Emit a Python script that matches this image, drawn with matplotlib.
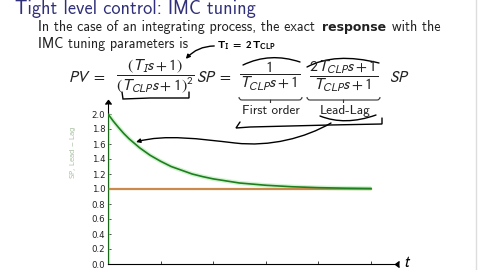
#
# Slide snapshot: IMC tuning of an integrating process, step response of SP and lead-lag
#

import matplotlib
matplotlib.use("Agg")
import matplotlib.pyplot as plt
from matplotlib.path import Path
from matplotlib.patches import FancyArrowPatch, PathPatch

# Data
t_sp = [0.0, 5.0]
sp = [1.0, 1.0]
t_leadlag = [0.0, 0.0, 0.1, 0.2, 0.3, 0.4, 0.5, 0.6, 0.8, 1.0, 1.2, 1.4, 1.6, 1.8, 2.0,
             2.5, 3.0, 3.5, 4.0, 4.5, 5.0]
leadlag = [0.0, 2.0, 1.905, 1.82, 1.74, 1.67, 1.61, 1.55, 1.45, 1.37, 1.30, 1.25, 1.20,
           1.165, 1.135, 1.08, 1.05, 1.03, 1.018, 1.011, 1.007]
y_ticks = [0.0, 0.2, 0.4, 0.6, 0.8, 1.0, 1.2, 1.4, 1.6, 1.8, 2.0]
x_ticks = [0, 1, 2, 3, 4, 5]

plt.rcParams['mathtext.fontset'] = 'stixsans'

W, H = 480, 270
fig = plt.figure(figsize=(W / 100, H / 100), dpi=100)
fig.patch.set_facecolor('white')

# Chart axes (pixel layout of the slide)
ax = fig.add_axes([108 / W, 6 / H, 287 / W, 164 / H])
ax.plot(t_leadlag, leadlag, color='#b5ecb5', lw=3.2, alpha=0.6, solid_capstyle='butt')
ax.plot(t_sp, sp, color='#c98a4b', lw=1.6, zorder=3)
ax.plot(t_leadlag, leadlag, color='#1e7f1e', lw=1.2, zorder=4)
ax.set_xlim(0, 5 * 287 / 263)
ax.set_ylim(0, 164 / 75)
ax.spines['top'].set_visible(False)
ax.spines['right'].set_visible(False)
ax.spines['left'].set_linewidth(0.8)
ax.spines['bottom'].set_linewidth(0.8)
ax.set_yticks(y_ticks)
ax.set_yticklabels(['%.1f' % v for v in y_ticks])
ax.set_xticks(x_ticks)
ax.set_xticklabels([])  # labels sit below the crop of the slide
ax.tick_params(axis='both', direction='in', length=2.5, width=0.6, labelsize=6.2,
               pad=2, colors='#222222')
ax.plot(1, 0, marker=4, color='black', ms=4, transform=ax.transAxes, clip_on=False)
ax.plot(0, 1, marker=6, color='black', ms=4, transform=ax.transAxes, clip_on=False)
ax.text(-0.122, 0.68, 'SP, Lead $-$ Lag', rotation=90, transform=ax.transAxes,
        fontsize=5, color='#a8c0a0', ha='center', va='center')

# Overlay in pixel coordinates for the slide text and handwriting
ov = fig.add_axes([0, 0, 1, 1], zorder=10)
ov.set_xlim(0, W)
ov.set_ylim(H, 0)
ov.axis('off')
ov.patch.set_alpha(0)

ov.text(15, 14, 'Tight level control: IMC tuning', fontsize=13.2, family='cmss10',
        color='#30307a', va='baseline')
ov.text(38, 31, 'In the case of an integrating process, the exact', fontsize=10.2,
        family='cmss10', color='#222222', va='baseline')
ov.text(322, 31, 'response', fontsize=9.0, family='DejaVu Sans', weight='bold',
        color='#222222', va='baseline')
ov.text(392, 31, 'with the', fontsize=10.2, family='cmss10', color='#222222', va='baseline')
ov.text(38, 48, 'IMC tuning parameters is', fontsize=10.2, family='cmss10',
        color='#222222', va='baseline')

# equation, piece by piece
eqc = dict(fontsize=11.5, color='#222222', va='center')
ov.text(68, 77, r'$PV\ =$', ha='left', **eqc)
ov.text(155, 76, r'$\dfrac{(T_I s+1)}{(T_{CLP}s+1)^2}$', ha='center', **eqc)
ov.text(196, 77, r'$SP\ =$', ha='left', **eqc)
ov.text(270, 76, r'$\dfrac{1}{T_{CLP}s+1}$', ha='center', **eqc)
ov.text(344, 76, r'$\dfrac{2T_{CLP}s+1}{T_{CLP}s+1}$', ha='center', **eqc)
ov.text(389, 77, r'$SP$', ha='left', **eqc)

ov.text(271, 111, 'First order', fontsize=9.5, family='cmss10', color='#222222',
        ha='center', va='center')
ov.text(345, 111, 'Lead-Lag', fontsize=9.5, family='cmss10', color='#222222',
        ha='center', va='center')


def brace(x0, x1, y, h, **kw):
    xm = (x0 + x1) / 2
    verts = [(x0, y - h), (x0, y), (x0 + h, y), (xm - h, y),
             (xm, y), (xm, y), (xm, y + h), (xm, y), (xm, y), (xm + h, y),
             (x1 - h, y), (x1, y), (x1, y - h)]
    codes = [Path.MOVETO, Path.CURVE3, Path.CURVE3, Path.LINETO,
             Path.CURVE3, Path.CURVE3, Path.LINETO, Path.MOVETO, Path.LINETO, Path.LINETO,
             Path.LINETO, Path.CURVE3, Path.CURVE3]
    ov.add_patch(PathPatch(Path(verts, codes), fill=False, **kw))


brace(239, 302, 100, 3, lw=0.8, color='#333333')
brace(307, 380, 100, 3, lw=0.8, color='#333333')

# handwriting
hw = dict(fill=False, lw=1.0, color='black', capstyle='round')
ov.text(217, 49, r'$\mathbf{T_I\ =\ 2\,T_{CLP}}$', fontsize=8, color='black',
        va='baseline')
ov.add_patch(FancyArrowPatch((217, 46), (184, 61), connectionstyle='arc3,rad=0.25',
                             arrowstyle='-|>', mutation_scale=6, lw=1.0, color='black'))
ov.add_patch(PathPatch(Path([(243, 65), (270, 52), (300, 62)],
                            [Path.MOVETO, Path.CURVE3, Path.CURVE3]), **hw))
ov.add_patch(PathPatch(Path([(307, 67), (335, 52), (379, 63)],
                            [Path.MOVETO, Path.CURVE3, Path.CURVE3]), **hw))
ov.add_patch(PathPatch(Path([(122, 92), (123, 99), (150, 98), (189, 98), (189, 92)],
                            [Path.MOVETO, Path.LINETO, Path.LINETO, Path.LINETO,
                             Path.LINETO]), **hw))
ov.add_patch(PathPatch(Path([(240, 122), (236, 128), (250, 127), (330, 125),
                             (382, 124), (382, 118)],
                            [Path.MOVETO, Path.LINETO, Path.LINETO, Path.LINETO,
                             Path.LINETO, Path.LINETO]), **hw))
ov.add_patch(PathPatch(Path([(320, 116), (345, 126), (376, 115)],
                            [Path.MOVETO, Path.CURVE3, Path.CURVE3]), **hw))
big = Path([(331, 123), (305, 138), (270, 147), (235, 143),
            (200, 139), (165, 134), (136, 142)],
           [Path.MOVETO, Path.CURVE4, Path.CURVE4, Path.CURVE4,
            Path.CURVE4, Path.CURVE4, Path.CURVE4])
ov.add_patch(FancyArrowPatch(path=big, arrowstyle='-|>', mutation_scale=6, lw=1.0,
                             color='black'))

ov.text(407, 262, '$t$', fontsize=12, color='black', ha='center', va='center')
ov.plot([476, 476], [0, 270], color='#dddddd', lw=1)

fig.savefig('out.png', dpi=100)
